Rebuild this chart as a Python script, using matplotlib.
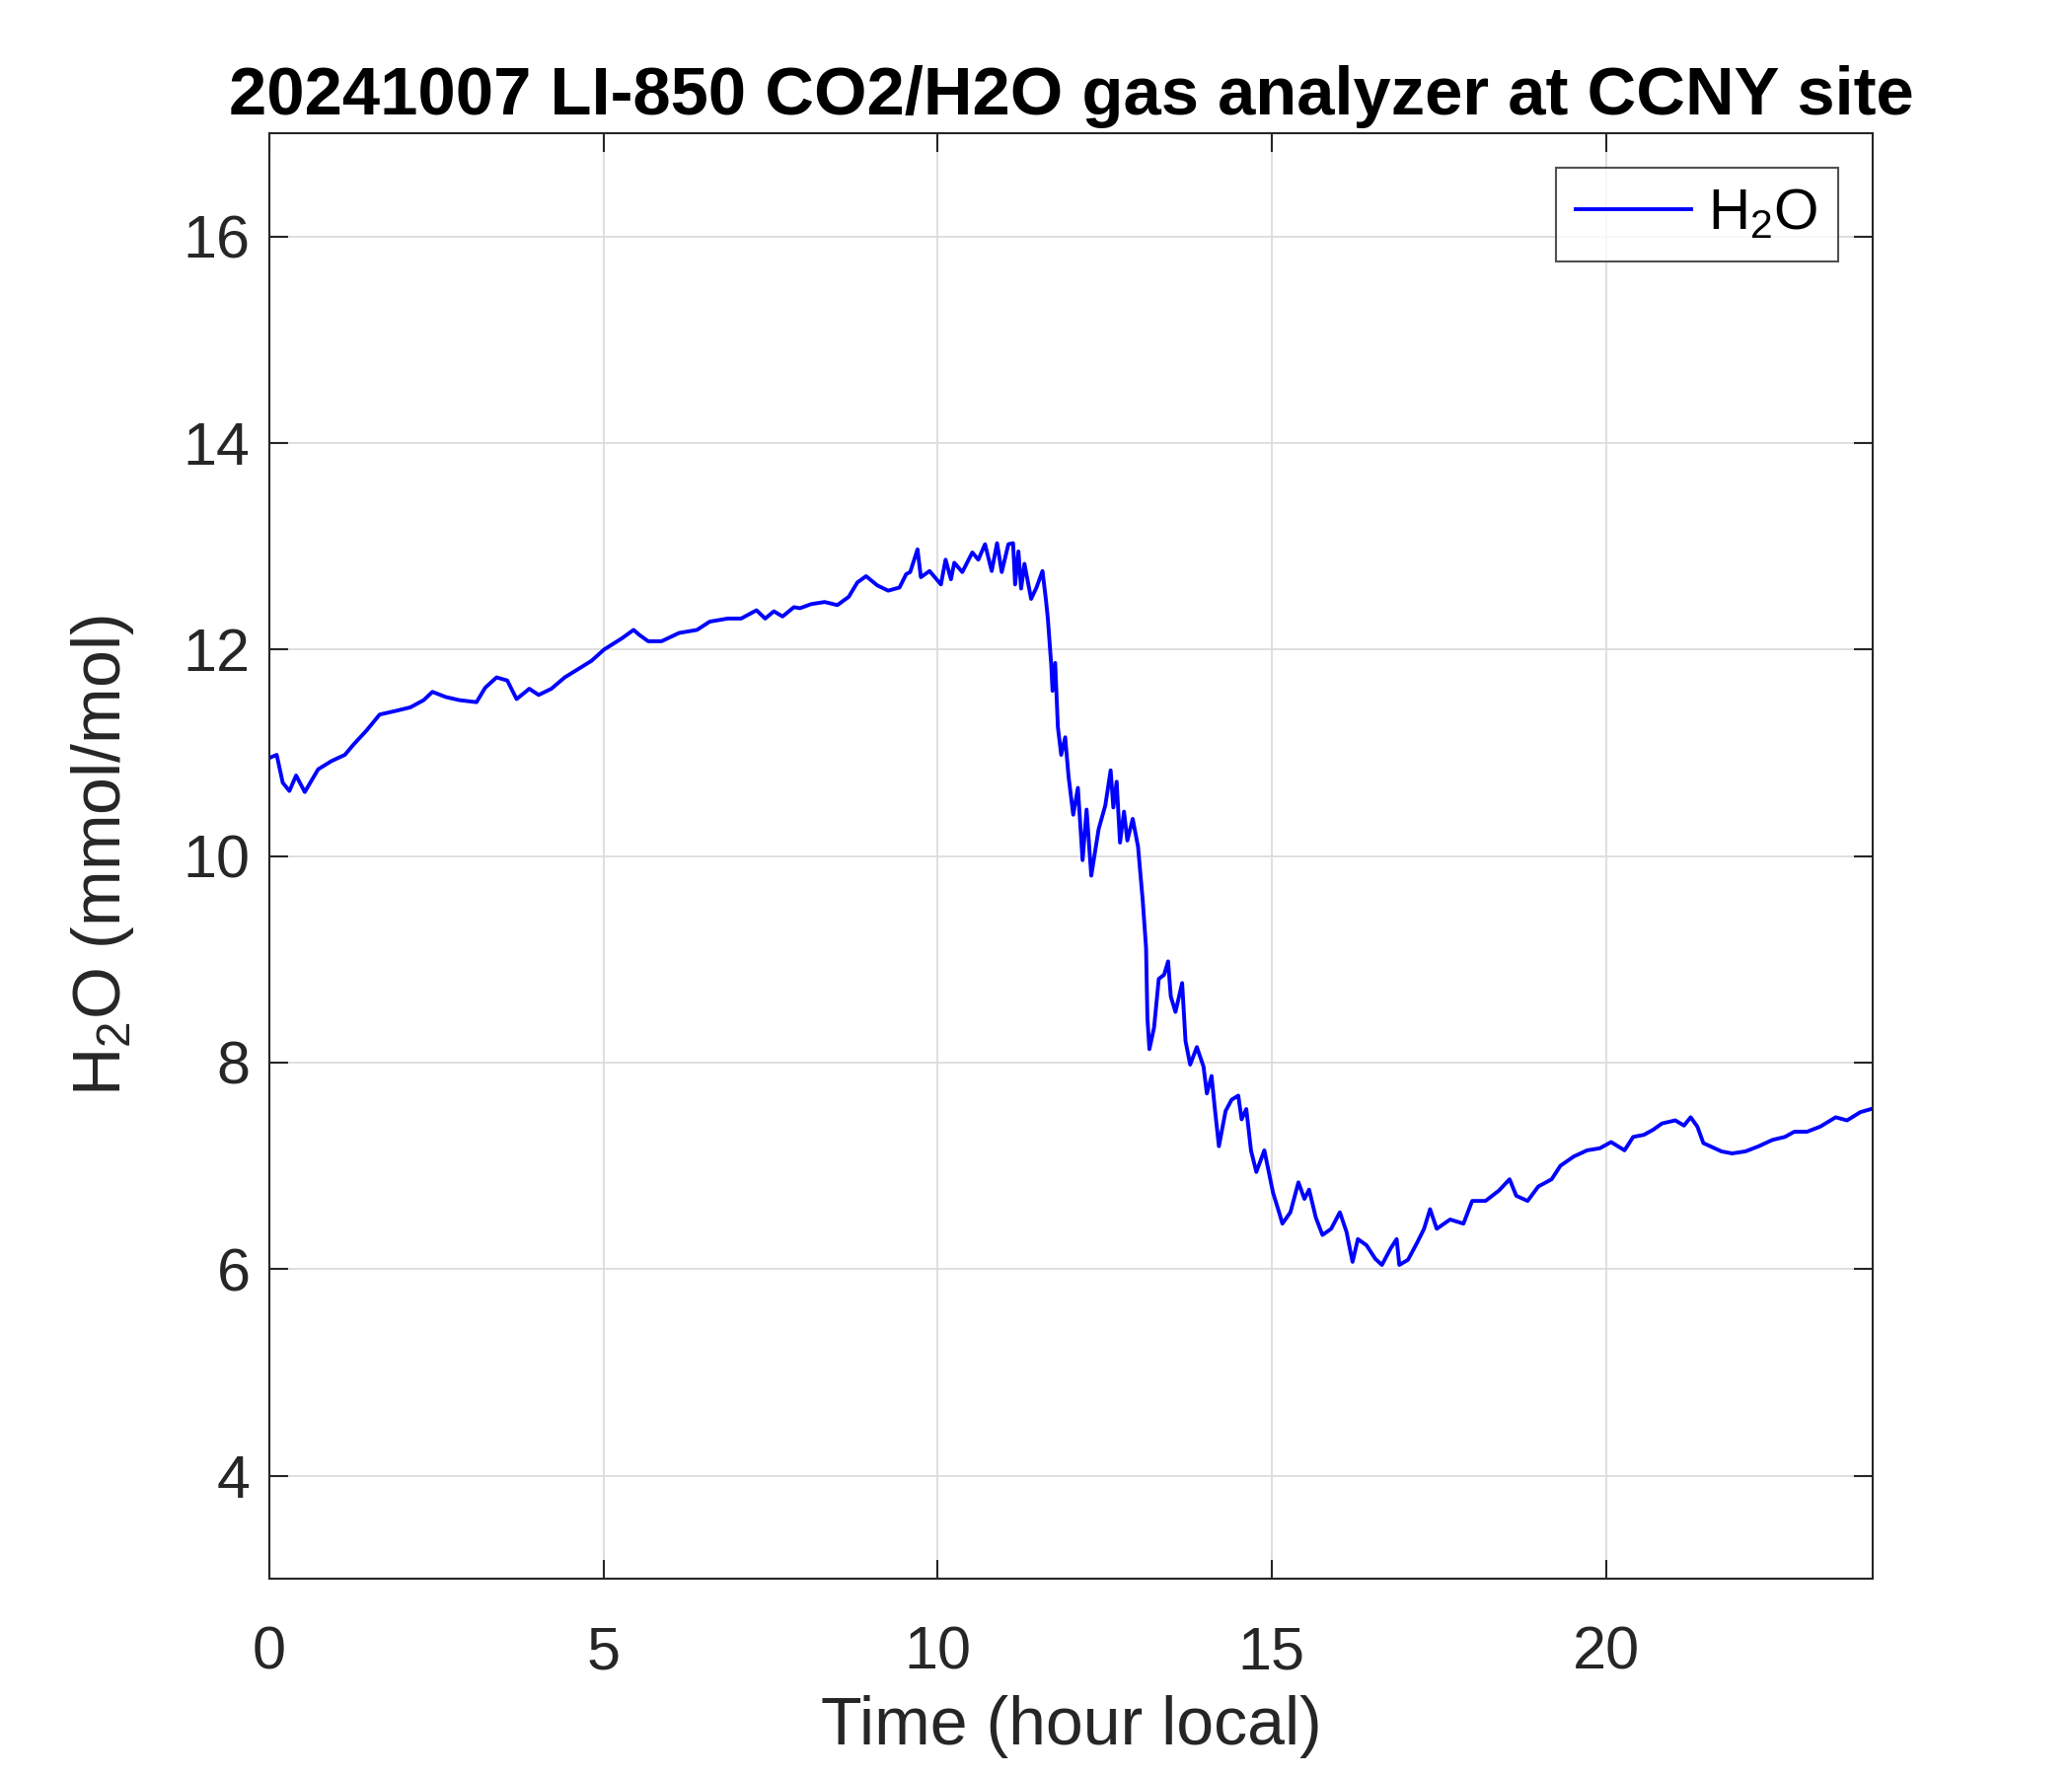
import matplotlib
matplotlib.use("Agg")
import matplotlib.pyplot as plt

hours = [0.00, 0.11, 0.20, 0.30, 0.40, 0.53, 0.73, 0.93, 1.13, 1.26, 1.46, 1.65, 1.92, 2.11,
         2.31, 2.44, 2.64, 2.84, 3.10, 3.23, 3.40, 3.56, 3.70, 3.89, 4.03, 4.22, 4.42, 4.62,
         4.82, 5.01, 5.28, 5.45, 5.54, 5.67, 5.87, 6.13, 6.40, 6.59, 6.86, 7.06, 7.29, 7.42,
         7.55, 7.68, 7.85, 7.94, 8.11, 8.31, 8.50, 8.67, 8.80, 8.93, 9.10, 9.26, 9.43, 9.53,
         9.59, 9.70, 9.75, 9.88, 10.05, 10.12, 10.20, 10.25, 10.37, 10.52, 10.61, 10.71,
         10.81, 10.89, 10.96, 11.06, 11.13, 11.16, 11.21, 11.25, 11.30, 11.40, 11.48, 11.57,
         11.62, 11.65, 11.70, 11.72, 11.76, 11.80, 11.85, 11.91, 11.96, 12.03, 12.10, 12.17,
         12.23, 12.30, 12.41, 12.51, 12.59, 12.63, 12.68, 12.73, 12.79, 12.84, 12.92, 13.00,
         13.07, 13.12, 13.14, 13.17, 13.24, 13.31, 13.39, 13.45, 13.49, 13.56, 13.66, 13.71,
         13.78, 13.88, 13.98, 14.03, 14.10, 14.15, 14.21, 14.31, 14.40, 14.50, 14.55, 14.62,
         14.69, 14.77, 14.89, 15.02, 15.12, 15.16, 15.28, 15.40, 15.49, 15.56, 15.66, 15.76,
         15.89, 16.02, 16.12, 16.21, 16.29, 16.42, 16.55, 16.65, 16.78, 16.87, 16.91, 17.04,
         17.18, 17.28, 17.37, 17.47, 17.67, 17.87, 18.00, 18.20, 18.40, 18.56, 18.66, 18.83,
         18.99, 19.19, 19.32, 19.52, 19.72, 19.91, 20.08, 20.28, 20.41, 20.57, 20.71, 20.84,
         21.04, 21.17, 21.27, 21.37, 21.46, 21.56, 21.73, 21.89, 22.09, 22.29, 22.49, 22.68,
         22.82, 23.01, 23.21, 23.44, 23.61, 23.81, 23.97]

h2o = [10.95, 10.98, 10.71, 10.63, 10.78, 10.62, 10.84, 10.92, 10.98, 11.08, 11.22, 11.37, 11.41, 11.44,
       11.51, 11.59, 11.54, 11.51, 11.49, 11.63, 11.73, 11.70, 11.52, 11.62, 11.56, 11.62, 11.73, 11.81,
       11.89, 12.00, 12.11, 12.19, 12.14, 12.08, 12.08, 12.16, 12.19, 12.27, 12.30, 12.30, 12.38, 12.30,
       12.37, 12.32, 12.41, 12.40, 12.44, 12.46, 12.43, 12.51, 12.65, 12.71, 12.62, 12.57, 12.60, 12.73,
       12.75, 12.97, 12.70, 12.76, 12.63, 12.87, 12.68, 12.84, 12.75, 12.94, 12.87, 13.02,
       12.76, 13.03, 12.75, 13.02, 13.03, 12.63, 12.95, 12.59, 12.83, 12.49, 12.60, 12.76,
       12.49, 12.30, 11.86, 11.60, 11.87, 11.25, 10.98, 11.15, 10.77, 10.40, 10.66, 9.96,
       10.45, 9.81, 10.26, 10.49, 10.83, 10.47, 10.72, 10.13, 10.43, 10.15, 10.36, 10.09,
       9.57, 9.11, 8.43, 8.13, 8.34, 8.81, 8.85, 8.98, 8.64, 8.49, 8.77, 8.21,
       7.98, 8.15, 7.96, 7.70, 7.87, 7.55, 7.19, 7.53, 7.64, 7.68, 7.45, 7.55,
       7.15, 6.94, 7.15, 6.74, 6.53, 6.44, 6.55, 6.84, 6.68, 6.77, 6.50, 6.33,
       6.39, 6.55, 6.36, 6.07, 6.29, 6.23, 6.10, 6.04, 6.20, 6.29, 6.04, 6.09,
       6.26, 6.39, 6.58, 6.39, 6.48, 6.44, 6.66, 6.66, 6.76, 6.87, 6.71, 6.66,
       6.80, 6.87, 7.00, 7.09, 7.15, 7.17, 7.23, 7.15, 7.28, 7.30, 7.35, 7.41,
       7.44, 7.39, 7.47, 7.38, 7.22, 7.19, 7.14, 7.12, 7.14, 7.19, 7.25, 7.28,
       7.33, 7.33, 7.38, 7.47, 7.44, 7.52, 7.55]

x_ticks = [0, 5, 10, 15, 20]
y_ticks = [4, 6, 8, 10, 12, 14, 16]

plt.rcParams['font.family'] = ['Liberation Sans', 'DejaVu Sans']
plt.rcParams['mathtext.fontset'] = 'custom'
plt.rcParams['mathtext.rm'] = 'Liberation Sans'
plt.rcParams['mathtext.it'] = 'Liberation Sans:italic'
plt.rcParams['mathtext.bf'] = 'Liberation Sans:bold'
text_color = '#262626'

fig = plt.figure(figsize=(21, 18), dpi=100)
ax = fig.add_axes([0.13, 0.111, 0.774, 0.814])
ax.plot(hours, h2o, color=(0, 0, 1), linewidth=2.8, label='H$_\\mathregular{2}$O')

ax.set_xlim(0, 24)
ax.set_ylim(3, 17)
ax.set_xticks(x_ticks)
ax.set_yticks(y_ticks)
ax.grid(True, color='#dcdcdc', linewidth=1.3)
ax.tick_params(direction='in', length=14, width=1.5, colors=text_color, labelsize=44,
               top=True, right=True)
ax.tick_params(axis='x', pad=34)
ax.tick_params(axis='y', pad=14)
for s in ax.spines.values():
    s.set_color(text_color)
    s.set_linewidth(1.5)

ax.set_xlabel('Time (hour local)', fontsize=49, color=text_color, labelpad=10)
ax.set_ylabel('H$_\\mathregular{2}$O (mmol/mol)', fontsize=49, color=text_color, labelpad=34)
ax.set_title('20241007 LI-850 CO2/H2O gas analyzer at CCNY site', fontsize=49.5,
             fontweight='bold', color='black', pad=14)

leg = ax.legend(loc='upper right', fontsize=42, frameon=True, fancybox=False,
                edgecolor=text_color, borderaxespad=0.6, handlelength=2.0,
                borderpad=0.35, handletextpad=0.3)
leg.get_frame().set_linewidth(1.5)

fig.savefig('out.png', dpi=100, facecolor='white')
